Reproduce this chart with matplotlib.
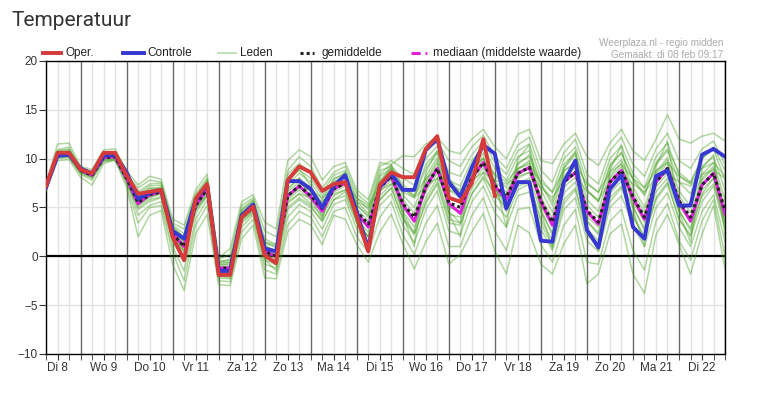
import matplotlib
matplotlib.use("Agg")
import matplotlib.pyplot as plt
from matplotlib.lines import Line2D
import pandas as pd

plt.rcParams["font.family"] = ["Liberation Sans", "DejaVu Sans"]

# 6-hourly steps, Di 8 feb 06:00 .. Wo 23 feb 00:00
times = pd.date_range("2022-02-08 06:00", periods=60, freq="6h")
day_labels = ["Di 8", "Wo 9", "Do 10", "Vr 11", "Za 12", "Zo 13", "Ma 14", "Di 15",
              "Wo 16", "Do 17", "Vr 18", "Za 19", "Zo 20", "Ma 21", "Di 22"]

oper = [7.2, 10.6, 10.6, 8.9, 8.5, 10.6, 10.6, 8.3, 6.4, 6.6, 6.8, 2.0, -0.4, 5.9, 7.4,
        -1.9, -1.9, 4.0, 5.1, 0.1, -0.7, 7.8, 9.2, 8.6, 6.7, 7.4, 7.6, 4.1, 0.5, 7.3,
        8.6, 8.1, 8.1, 11.0, 12.3, 6.0, 5.6, 7.5, 12.0, 6.2]

controle = [7.1, 10.3, 10.4, 9.0, 8.5, 10.3, 10.4, 8.6, 5.9, 6.5, 6.8, 2.6, 1.8, 5.8, 7.3,
            -1.5, -1.5, 4.2, 5.3, 0.8, 0.5, 7.7, 7.7, 6.9, 5.0, 7.2, 8.3, 4.5, 0.8, 7.1,
            8.5, 6.8, 6.8, 10.9, 12.0, 7.6, 6.1, 9.1, 11.4, 10.5, 4.9, 7.6, 7.6, 1.6, 1.5,
            7.6, 9.8, 2.7, 0.9, 6.9, 8.3, 3.0, 1.8, 8.2, 8.8, 5.2, 5.2, 10.4, 11.0, 10.2]

gemiddelde = [7.0, 10.4, 10.5, 8.8, 8.3, 10.1, 10.2, 8.0, 5.5, 6.3, 6.6, 2.3, 1.0, 5.2, 6.9,
              -1.2, -1.2, 4.0, 5.0, 0.5, 0.0, 6.2, 7.2, 6.2, 4.9, 6.9, 7.5, 4.6, 3.3, 7.0,
              8.2, 5.4, 4.0, 7.1, 9.0, 5.5, 5.0, 8.0, 9.6, 7.3, 6.1, 8.5, 9.1, 5.7, 3.5,
              7.6, 8.6, 4.7, 3.5, 7.6, 8.8, 6.1, 4.0, 7.6, 9.0, 5.7, 4.0, 7.3, 8.5, 4.7]

mediaan = [7.0, 10.4, 10.5, 8.8, 8.3, 10.1, 10.2, 8.0, 5.4, 6.3, 6.6, 2.3, 1.0, 5.2, 6.9,
           -1.2, -1.2, 4.0, 5.0, 0.5, 0.0, 6.2, 7.2, 6.1, 4.6, 6.9, 7.5, 4.5, 3.0, 7.0,
           8.2, 5.3, 3.6, 7.1, 9.0, 5.4, 4.4, 8.0, 9.6, 7.2, 5.8, 8.5, 9.1, 5.6, 3.2,
           7.6, 8.6, 4.6, 3.3, 7.6, 8.8, 6.0, 3.8, 7.6, 9.0, 5.6, 3.6, 7.3, 8.5, 4.3]

leden = [
    [7.2, 10.8, 11.0, 9.0, 8.6, 10.4, 10.6, 8.3, 6.0, 6.9, 7.1, 2.8, 1.5, 5.6, 7.3, -0.8, -0.9, 4.4, 5.4, 1.0,
     0.6, 7.0, 8.0, 7.0, 5.5, 7.6, 8.2, 5.3, 4.0, 7.8, 9.0, 6.3, 5.0, 8.2, 10.1, 6.8, 6.0, 9.0, 10.6, 8.3,
     7.0, 9.6, 10.2, 6.8, 4.5, 8.7, 9.7, 5.8, 4.6, 8.7, 9.9, 7.1, 5.0, 8.6, 10.1, 6.7, 5.1, 8.4, 9.6, 5.8],
    [6.8, 10.0, 10.1, 8.5, 8.0, 9.7, 9.8, 7.6, 5.0, 5.8, 6.1, 1.8, 0.4, 4.7, 6.4, -1.6, -1.6, 3.6, 4.5, 0.0,
     -0.6, 5.4, 6.4, 5.4, 4.2, 6.2, 6.8, 3.8, 2.5, 6.2, 7.4, 4.6, 3.0, 6.0, 8.0, 4.3, 4.0, 7.0, 8.6, 6.2,
     5.0, 7.5, 8.0, 4.6, 2.4, 6.5, 7.6, 3.6, 2.4, 6.5, 7.7, 5.0, 2.9, 6.6, 8.0, 4.6, 2.9, 6.2, 7.4, 3.6],
    [7.4, 11.5, 11.6, 9.2, 8.9, 10.9, 11.0, 8.8, 7.3, 8.2, 7.9, 3.8, 3.2, 6.8, 8.4, -0.2, 0.8, 5.6, 6.3, 3.5,
     2.8, 9.8, 10.9, 10.2, 7.8, 9.2, 9.6, 6.8, 5.8, 9.6, 9.4, 10.3, 10.2, 11.5, 12.2, 10.8, 10.5, 12.0, 13.0, 11.2,
     10.0, 12.5, 13.0, 9.8, 9.5, 11.5, 12.6, 10.2, 9.3, 11.6, 13.0, 10.8, 9.8, 12.0, 14.5, 12.0, 11.6, 12.3, 12.6, 11.8],
    [6.6, 9.8, 9.9, 8.1, 7.3, 9.5, 9.9, 7.1, 2.0, 4.2, 4.7, -0.8, -3.5, 2.3, 4.3, -2.9, -3.0, 1.8, 3.2, -2.2,
     -2.3, 2.5, 3.8, 3.2, 1.2, 4.2, 3.8, 1.2, -0.6, 2.5, 4.3, 1.3, -1.3, 1.5, 3.4, -0.8, 0.2, 2.5, 4.4, 0.5,
     -1.8, 3.2, 2.4, -0.8, -1.8, 1.3, 3.2, -2.8, -1.8, 2.3, 3.3, -1.8, -3.8, 2.2, 4.3, 1.2, -1.8, 2.3, 5.2, -1.3],
    [7.1, 10.6, 10.8, 8.9, 8.5, 10.3, 10.4, 8.2, 6.6, 7.4, 7.5, 3.2, 2.3, 6.2, 7.8, -0.5, -0.4, 4.9, 5.8, 1.8,
     1.2, 8.4, 9.5, 8.6, 6.6, 8.3, 8.8, 6.0, 4.8, 8.8, 9.2, 8.0, 7.3, 10.0, 11.3, 8.6, 8.2, 10.4, 11.8, 9.6,
     8.4, 10.8, 11.5, 8.0, 6.5, 10.0, 11.2, 7.6, 6.5, 10.0, 11.3, 8.5, 7.0, 10.2, 11.6, 8.3, 7.5, 10.0, 11.0, 7.8],
    [6.9, 10.2, 10.3, 8.6, 8.1, 9.9, 10.0, 7.8, 4.2, 5.2, 5.6, 1.0, -1.5, 3.8, 5.8, -2.0, -2.2, 3.0, 4.2, -0.8,
     -1.2, 4.0, 5.3, 4.6, 2.8, 5.3, 5.8, 2.8, 1.3, 5.2, 6.4, 3.2, 1.4, 4.8, 6.7, 2.6, 2.2, 5.6, 7.2, 4.5,
     3.0, 6.2, 6.6, 2.8, 0.6, 4.8, 6.0, 1.6, 0.5, 5.0, 6.2, 3.2, 1.0, 5.0, 6.5, 3.0, 1.0, 4.6, 6.3, 1.5],
    [7.0, 10.5, 10.6, 8.8, 8.4, 10.2, 10.3, 8.1, 5.8, 6.6, 6.8, 2.6, 1.4, 5.4, 7.1, -1.0, -0.7, 4.3, 5.2, 1.2,
     0.4, 7.4, 8.5, 7.6, 5.8, 8.0, 8.4, 5.2, 4.2, 8.2, 9.0, 7.4, 6.2, 9.4, 10.8, 8.0, 6.5, 9.2, 10.0, 7.0,
     5.0, 7.2, 7.6, 3.4, 1.0, 5.4, 6.8, 2.2, 1.2, 5.6, 7.0, 4.0, 2.0, 6.0, 7.6, 3.8, 2.2, 6.4, 8.0, 3.0],
    [7.0, 10.2, 10.4, 8.7, 8.2, 10.0, 10.1, 7.9, 5.2, 6.0, 6.4, 2.0, 0.6, 4.9, 6.6, -1.4, -1.5, 3.8, 4.8, 0.2,
     -0.4, 5.0, 6.0, 5.2, 3.6, 5.8, 6.6, 3.5, 2.0, 5.8, 7.0, 3.8, 2.2, 5.4, 7.4, 3.4, 3.2, 6.4, 8.2, 6.4,
     6.0, 9.4, 10.4, 7.4, 5.2, 9.0, 10.4, 6.8, 5.6, 9.2, 10.6, 8.0, 6.4, 9.6, 11.0, 8.6, 7.6, 10.0, 11.2, 8.8],
    [7.1, 10.9, 11.2, 9.0, 8.6, 10.7, 10.7, 8.5, 6.2, 7.0, 6.9, 1.5, -0.5, 6.0, 7.7, -2.2, -2.3, 4.6, 5.6, -0.3,
     -1.5, 7.6, 9.0, 7.2, 4.0, 7.4, 8.6, 3.4, 1.0, 7.4, 9.3, 4.2, 1.0, 8.6, 10.8, 4.4, 2.0, 9.4, 11.6, 7.6,
     3.0, 10.0, 11.4, 4.6, 0.8, 9.0, 10.8, 2.6, 0.6, 8.8, 11.4, 4.8, 1.0, 9.2, 11.8, 4.6, 1.4, 9.0, 10.4, 2.2],
    [6.9, 10.3, 10.4, 8.8, 8.4, 10.0, 10.2, 8.0, 5.6, 6.2, 6.6, 2.8, 1.6, 4.8, 6.2, -0.6, -0.3, 3.8, 4.6, 1.4,
     1.0, 5.6, 6.4, 6.0, 5.6, 6.4, 6.8, 5.6, 5.0, 6.8, 7.4, 6.6, 6.0, 7.2, 8.0, 6.8, 6.4, 7.8, 8.6, 7.8,
     7.4, 8.2, 8.6, 7.0, 6.0, 7.8, 8.4, 6.6, 5.8, 7.6, 8.4, 7.4, 6.6, 8.0, 8.6, 7.6, 7.2, 8.4, 8.8, 8.0],
    [7.2, 10.6, 10.6, 8.9, 8.3, 10.2, 10.4, 8.4, 7.0, 7.8, 7.6, 3.4, 2.8, 6.4, 8.0, -0.3, 0.2, 5.2, 6.0, 2.6,
     2.0, 8.8, 10.2, 9.2, 7.0, 8.6, 9.2, 6.4, 5.4, 9.2, 9.8, 9.0, 8.4, 10.8, 11.8, 9.8, 9.2, 11.2, 12.4, 10.2,
     9.0, 11.4, 12.2, 8.8, 7.6, 10.6, 12.0, 8.4, 7.4, 10.8, 12.2, 9.4, 8.2, 11.0, 12.6, 9.8, 9.0, 11.0, 11.8, 9.4],
    [6.8, 10.1, 10.2, 8.4, 7.8, 9.8, 10.0, 7.4, 3.4, 5.0, 5.2, 0.4, -2.5, 3.2, 5.2, -2.5, -2.6, 2.5, 3.8, -1.4,
     -1.8, 3.2, 4.6, 4.0, 2.0, 4.6, 5.0, 2.0, 0.4, 4.0, 5.6, 2.2, 0.2, 3.4, 5.2, 1.0, 1.0, 4.2, 6.0, 2.6,
     0.6, 4.8, 5.0, 1.2, -0.6, 3.2, 4.8, -0.6, -0.8, 3.6, 4.8, 0.6, -1.4, 3.6, 5.4, 1.6, -0.4, 3.6, 5.8, 0.0],
    [7.0, 10.5, 10.7, 8.9, 8.4, 10.1, 10.3, 8.1, 5.7, 6.5, 6.9, 2.5, 1.2, 5.4, 7.0, -1.1, -1.0, 4.2, 5.1, 0.7,
     0.2, 6.6, 7.6, 6.6, 5.2, 7.2, 7.8, 4.9, 3.6, 7.4, 8.5, 5.8, 4.4, 7.6, 9.5, 6.0, 5.4, 8.4, 10.0, 7.7,
     6.5, 8.9, 9.6, 6.1, 3.9, 8.0, 9.1, 5.2, 4.0, 8.0, 9.2, 6.6, 4.5, 8.1, 9.5, 6.2, 4.5, 7.8, 9.0, 5.2],
    [7.0, 10.3, 10.4, 8.7, 8.2, 10.0, 10.1, 7.9, 5.3, 6.1, 6.4, 2.1, 0.8, 5.0, 6.7, -1.4, -1.4, 3.8, 4.8, 0.3,
     -0.2, 5.8, 6.8, 5.8, 4.6, 6.6, 7.2, 4.2, 3.0, 6.6, 7.8, 5.0, 3.5, 6.6, 8.5, 5.0, 4.5, 7.5, 9.1, 6.8,
     5.6, 8.0, 8.6, 5.2, 3.0, 7.1, 8.1, 4.1, 3.0, 7.1, 8.3, 5.6, 3.5, 7.1, 8.5, 5.2, 3.5, 6.8, 8.0, 4.1],
    [7.1, 10.6, 10.7, 8.8, 8.3, 10.2, 10.3, 8.0, 5.9, 6.7, 6.9, 2.2, 0.5, 5.6, 7.2, -1.7, -1.8, 4.3, 5.3, 0.0,
     -0.8, 6.8, 8.0, 6.0, 3.8, 7.4, 8.2, 3.9, 2.0, 7.6, 8.8, 4.4, 2.4, 7.8, 9.8, 4.6, 3.4, 8.6, 10.2, 6.6,
     4.6, 9.0, 9.8, 4.8, 2.2, 8.2, 9.4, 3.6, 2.2, 8.2, 9.6, 5.2, 2.6, 8.4, 9.8, 4.8, 2.6, 8.0, 9.2, 3.4],
    [7.0, 10.4, 10.6, 8.9, 8.5, 10.2, 10.3, 8.2, 6.2, 6.7, 7.0, 3.0, 2.0, 5.2, 6.8, -0.8, -0.6, 4.1, 5.0, 1.5,
     1.2, 6.0, 7.0, 6.8, 6.0, 7.0, 7.4, 6.0, 5.2, 7.4, 8.0, 7.0, 6.2, 8.0, 8.8, 7.2, 6.8, 8.6, 9.4, 8.4,
     7.6, 9.0, 9.4, 7.6, 6.6, 8.8, 9.4, 7.4, 6.6, 8.6, 9.4, 8.0, 7.0, 8.8, 9.6, 8.2, 7.4, 9.0, 9.6, 8.2],
    [6.9, 10.1, 10.2, 8.6, 8.1, 9.8, 9.9, 7.7, 4.8, 5.6, 6.0, 1.6, 0.0, 4.4, 6.2, -1.8, -1.9, 3.4, 4.4, -0.3,
     -0.9, 4.8, 5.8, 5.0, 3.6, 5.8, 6.2, 3.4, 2.0, 5.8, 7.0, 4.0, 2.4, 5.6, 7.6, 3.8, 3.4, 6.4, 8.0, 5.4,
     4.0, 6.8, 7.4, 3.8, 1.6, 5.8, 7.0, 2.8, 1.6, 6.0, 7.2, 4.2, 2.0, 5.8, 7.4, 3.8, 2.0, 5.6, 7.2, 2.8],
    [7.1, 10.7, 10.9, 9.0, 8.6, 10.5, 10.5, 8.4, 6.4, 7.2, 7.3, 3.0, 1.9, 5.9, 7.5, -0.6, -0.6, 4.7, 5.7, 1.4,
     0.9, 7.8, 8.8, 8.0, 6.2, 7.8, 8.6, 5.6, 4.4, 8.4, 9.4, 7.0, 6.0, 9.0, 10.6, 7.8, 7.2, 9.8, 11.2, 9.0,
     7.8, 10.2, 10.8, 7.4, 5.6, 9.4, 10.6, 6.8, 5.6, 9.4, 10.6, 7.8, 6.2, 9.4, 10.8, 7.6, 6.4, 9.2, 10.2, 6.8],
]

RED = "#d63a3a"
BLUE = "#3737d2"
GREEN = "#45a020"
MAGENTA = "#e01ee0"
DOTS = (0, (1, 1))

fig = plt.figure(figsize=(7.58, 3.95), dpi=100)
ax = fig.add_axes([0.0607, 0.1038, 0.8958, 0.7418])

# grid: light every 6h, dark at midnight
t0 = times[0] - pd.Timedelta(hours=6)
for h in range(6, 361, 6):
    t = t0 + pd.Timedelta(hours=h)
    if h % 24 == 0:
        ax.axvline(t, color="#6a6a6a", lw=1.0, zorder=1)
    else:
        ax.axvline(t, color="#e2e2e2", lw=1.0, zorder=0)
for y in range(-10, 21, 5):
    ax.axhline(y, color="#e2e2e2", lw=1.0, zorder=0)
ax.axhline(0, color="black", lw=1.6, zorder=2)

for m in leden:
    ax.plot(times, m, color=GREEN, lw=1.1, alpha=0.42, zorder=3)

ax.plot(times, mediaan, color=MAGENTA, lw=2.2, zorder=4)
ax.plot(times, gemiddelde, color="#222222", lw=2.2, ls=DOTS, zorder=5)
ax.plot(times, controle, color=BLUE, lw=2.8, zorder=6)
ax.plot(times[:len(oper)], oper, color=RED, lw=2.8, zorder=7)

ax.set_xlim(times[0], times[-1])
ax.set_ylim(-10, 20)
ax.set_yticks(range(-10, 21, 5))

noon = [pd.Timestamp("2022-02-08 12:00") + pd.Timedelta(days=d) for d in range(len(day_labels))]
ax.set_xticks(noon)
ax.set_xticklabels(day_labels)
ax.set_xticks(list(times), minor=True)
ax.tick_params(axis="x", which="both", length=4, color="#333333", labelsize=8.5,
               labelcolor="#333333", pad=2)
ax.tick_params(axis="y", length=5, color="#333333", labelsize=8.5, labelcolor="#333333", pad=1)
for s in ax.spines.values():
    s.set_color("black")
    s.set_linewidth(1.0)

fig.text(0.015, 0.948, "Temperatuur", fontsize=15, family="Roboto", color="#333333", va="center")

# legend, placed by hand like the original
W, H = 758.0, 395.0
ly = 1 - 53 / H
entries = [
    (43, 61, 65, dict(color=RED, lw=2.8), "Oper."),
    (123, 144, 147, dict(color=BLUE, lw=2.8), "Controle"),
    (218, 236, 240, dict(color="#b5dca8", lw=1.2), "Leden"),
    (300, 314, 322, dict(color="#222222", lw=2.2, ls=DOTS), "gemiddelde"),
    (411, 429, 433, dict(color=MAGENTA, lw=2.2, ls=(0, (3, 1.6, 0.6, 1.6))), "mediaan (middelste waarde)"),
]
for x0, x1, tx, style, label in entries:
    fig.add_artist(Line2D([x0 / W, x1 / W], [ly, ly], transform=fig.transFigure, **style))
    fig.text(tx / W, ly, label, fontsize=8.5, color="#222222", va="center", ha="left")

fig.text(723 / W, 1 - 43 / H, "Weerplaza.nl - regio midden", ha="right", va="center",
         fontsize=7.2, color="#aaaaaa")
fig.text(723 / W, 1 - 55 / H, "Gemaakt: di 08 feb 09:17", ha="right", va="center",
         fontsize=7.2, color="#aaaaaa")

fig.savefig("out.png", dpi=100)
